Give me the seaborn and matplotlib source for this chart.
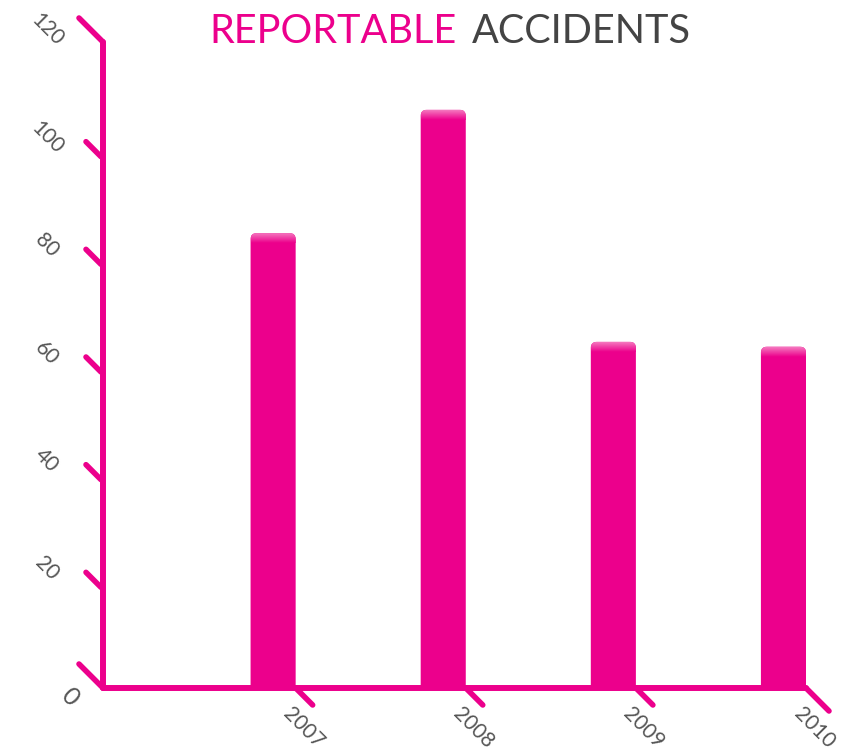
"""Reportable accidents per year - pink bar chart with slanted tick marks."""

import numpy as np
import matplotlib

matplotlib.use("Agg")
import matplotlib.pyplot as plt  # noqa: E402
import pandas as pd  # noqa: E402
import seaborn as sns  # noqa: E402
from matplotlib.colors import LinearSegmentedColormap  # noqa: E402
from matplotlib.lines import Line2D  # noqa: E402
from matplotlib.patches import FancyBboxPatch  # noqa: E402
from matplotlib.transforms import IdentityTransform  # noqa: E402

years = ["2007", "2008", "2009", "2010"]
accidents = [84.5, 107.4, 64.3, 63.4]
y_ticks = [0, 20, 40, 60, 80, 100, 120]
title_left = "REPORTABLE"
title_right = "ACCIDENTS"

PINK = "#EC008C"
GREY = "#555555"
W, H, DPI = 843, 749, 100

sns.set_theme(style="white")
plt.rcParams["font.family"] = ["Lato", "DejaVu Sans"]

fig = plt.figure(figsize=(W / DPI, H / DPI), dpi=DPI)
ax = fig.add_axes([103 / W, 1 - 688 / H, (806 - 103) / W, (688 - 42) / H])

df = pd.DataFrame({"year": years, "accidents": accidents})
bar_w = 0.265
sns.barplot(data=df, x="year", y="accidents", color=PINK, saturation=1,
            width=bar_w, ax=ax)

ax.set_xlim(-1, len(years) - 1 + bar_w / 2)
ax.set_ylim(0, y_ticks[-1])
sns.despine(ax=ax)
for side in ("left", "bottom"):
    ax.spines[side].set_color(PINK)
    ax.spines[side].set_linewidth(4.3)
    ax.spines[side].set_capstyle("round")
ax.set_xticks([])
ax.set_yticks([])
ax.set_xlabel("")
ax.set_ylabel("")

# pixels per data unit, used for rounding and the top highlight
px_x = ax.transData.transform((1, 0))[0] - ax.transData.transform((0, 0))[0]
px_y = ax.transData.transform((0, 1))[1] - ax.transData.transform((0, 0))[1]

shine = LinearSegmentedColormap.from_list("shine", [PINK, "#F577BE"])
for rect in list(ax.patches):
    x, w, h = rect.get_x(), rect.get_width(), rect.get_height()
    rect.remove()
    r = 6 / px_x
    bar = FancyBboxPatch((x, -3), w, h + 3,
                         boxstyle=f"round,pad=0,rounding_size={r}",
                         mutation_aspect=px_x / px_y,
                         fc=PINK, ec="none", zorder=2)
    ax.add_patch(bar)
    grad = np.linspace(0, 1, 32).reshape(-1, 1)
    im = ax.imshow(grad, extent=[x, x + w, h - 10 / px_y, h], origin="lower",
                   cmap=shine, aspect="auto", zorder=3)
    im.set_clip_path(bar)

ax.set_xlim(-1, len(years) - 1 + bar_w / 2)
ax.set_ylim(0, y_ticks[-1])

ident = IdentityTransform()
x0, y0 = ax.transData.transform((-1, 0))
tick_kw = dict(color=PINK, lw=4.0, solid_capstyle="round", transform=ident)
label_kw = dict(transform=ident, rotation=-45, ha="center", va="center",
                color=GREY)

# slanted y ticks and labels
for v in y_ticks:
    vy = ax.transData.transform((0, v))[1]
    if v in (y_ticks[0], y_ticks[-1]):
        fig.add_artist(Line2D([x0 - 24, x0], [vy + 24, vy], **tick_kw))
    else:
        fig.add_artist(Line2D([x0 - 17, x0 - 2], [vy + 8, vy - 7], **tick_kw))
    if v == 0:
        fig.text(x0 - 33, vy - 9, str(v), fontsize=18, **label_kw)
    else:
        fig.text(x0 - 56, vy + 12, str(v), fontsize=15, **label_kw)

# slanted x ticks at the right edge of every bar, labels below
for i, yr in enumerate(years):
    xr = ax.transData.transform((i + bar_w / 2, 0))[0]
    n = 23 if i == len(years) - 1 else 17
    fig.add_artist(Line2D([xr, xr + n], [y0, y0 - n], **tick_kw))
    fig.text(xr + 8, y0 - 40, yr, fontsize=15, **label_kw)

# two-colour title
renderer = fig.canvas.get_renderer()
t1 = fig.text(0, H - 43, title_left, transform=ident, fontsize=28.5,
              color=PINK, va="baseline")
t2 = fig.text(0, H - 43, title_right, transform=ident, fontsize=28.5,
              color="#444444", va="baseline")
w1 = t1.get_window_extent(renderer).width
w2 = t2.get_window_extent(renderer).width
gap = 15
start = 450 - (w1 + gap + w2) / 2
t1.set_x(start)
t2.set_x(start + w1 + gap)

fig.savefig("out.png", dpi=DPI)
plt.close(fig)
